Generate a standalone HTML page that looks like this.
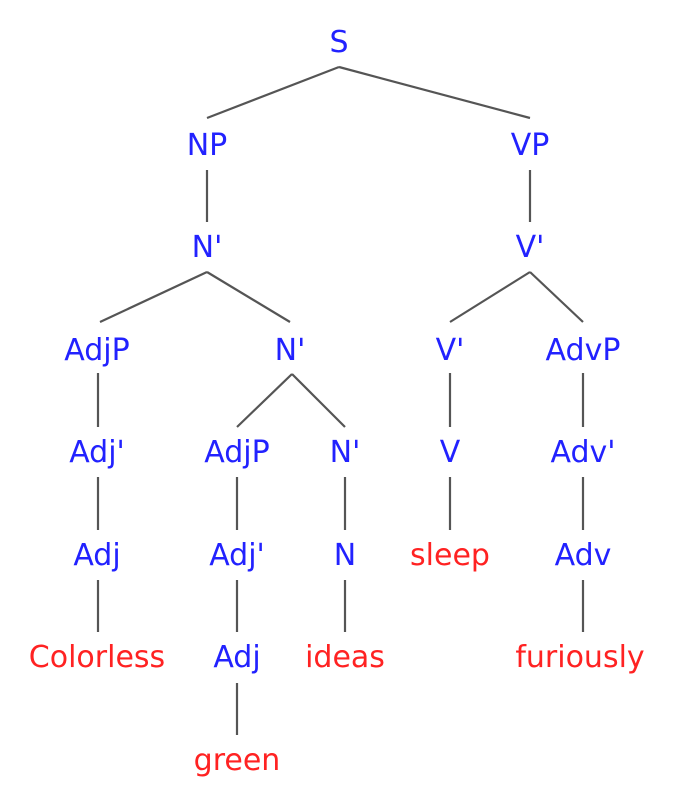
<!DOCTYPE html>
<html><head><style>
html,body{margin:0;padding:0;background:#fff;}
svg text{font-family:"DejaVu Sans","Liberation Sans",sans-serif;font-size:30px;text-anchor:middle;}
.b{fill:#2222ff}.r{fill:#ff2222}
</style></head><body>
<svg width="679" height="799" xmlns="http://www.w3.org/2000/svg">
<g stroke="#555" stroke-width="2.2" fill="none">
<line x1="339" y1="67" x2="207" y2="118"/><line x1="339" y1="67" x2="530" y2="118"/>
<line x1="207" y1="170" x2="207" y2="222"/><line x1="530" y1="170" x2="530" y2="222"/>
<line x1="207" y1="272" x2="100" y2="322"/><line x1="207" y1="272" x2="290" y2="322"/>
<line x1="530" y1="272" x2="450" y2="322"/><line x1="530" y1="272" x2="583" y2="322"/>
<line x1="98" y1="373" x2="98" y2="427"/><line x1="450" y1="373" x2="450" y2="427"/><line x1="583" y1="373" x2="583" y2="427"/>
<line x1="292" y1="374" x2="237" y2="427"/><line x1="292" y1="374" x2="345" y2="427"/>
<line x1="98" y1="477" x2="98" y2="530"/><line x1="237" y1="477" x2="237" y2="530"/><line x1="345" y1="477" x2="345" y2="530"/><line x1="450" y1="477" x2="450" y2="530"/><line x1="583" y1="477" x2="583" y2="530"/>
<line x1="98" y1="580" x2="98" y2="632"/><line x1="237" y1="580" x2="237" y2="632"/><line x1="345" y1="580" x2="345" y2="632"/><line x1="583" y1="580" x2="583" y2="632"/>
<line x1="237" y1="683" x2="237" y2="735"/>
</g>
<text class="b" x="339" y="52">S</text>
<text class="b" x="207" y="155">NP</text><text class="b" x="530" y="155">VP</text>
<text class="b" x="207" y="257">N'</text><text class="b" x="530" y="257">V'</text>
<text class="b" x="97" y="360">AdjP</text><text class="b" x="290" y="360">N'</text><text class="b" x="450" y="360">V'</text><text class="b" x="583" y="360">AdvP</text>
<text class="b" x="97" y="462">Adj'</text><text class="b" x="237" y="462">AdjP</text><text class="b" x="345" y="462">N'</text><text class="b" x="450" y="462">V</text><text class="b" x="583" y="462">Adv'</text>
<text class="b" x="97" y="565">Adj</text><text class="b" x="237" y="565">Adj'</text><text class="b" x="345" y="565">N</text><text class="r" x="450" y="565">sleep</text><text class="b" x="583" y="565">Adv</text>
<text class="r" x="97" y="667">Colorless</text><text class="b" x="237" y="667">Adj</text><text class="r" x="345" y="667">ideas</text><text class="r" x="580" y="667">furiously</text>
<text class="r" x="237" y="770">green</text>
</svg>
</body></html>
